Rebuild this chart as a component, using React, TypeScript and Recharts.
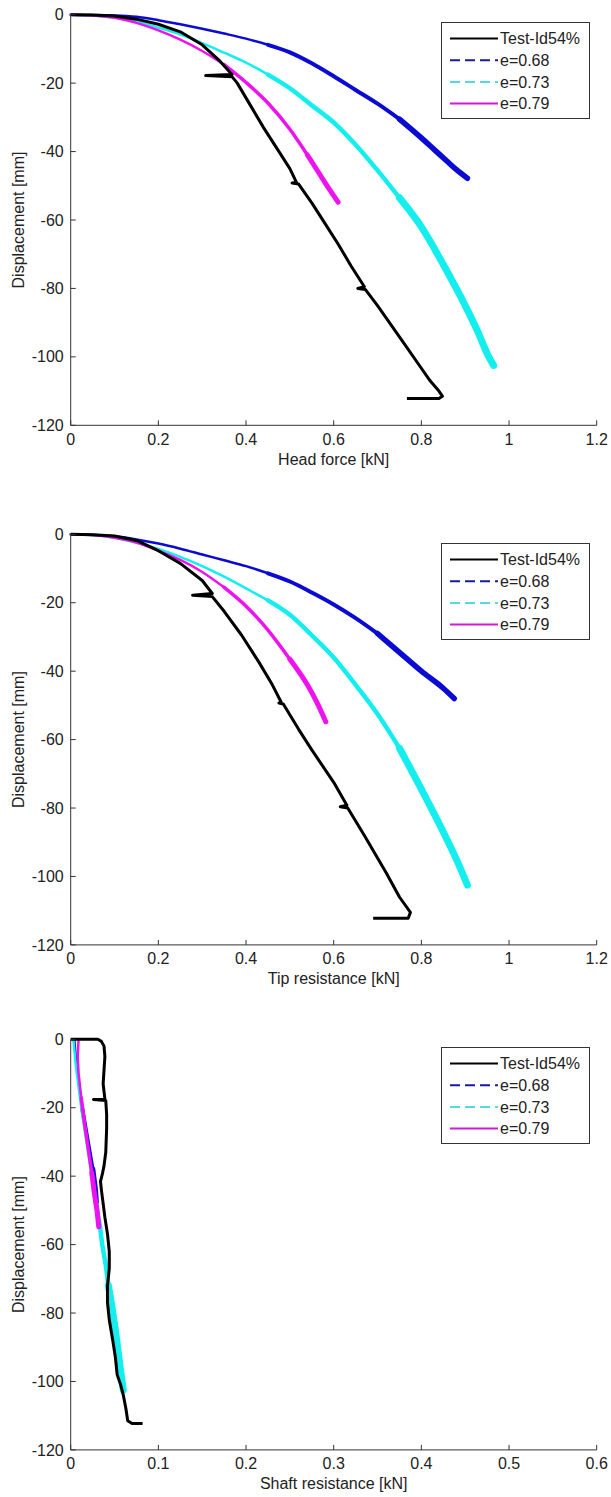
import { Legend, Line, LineChart, XAxis, YAxis } from "recharts";

type Pt = [number, number];

const SERIES_NAMES = ["Test-Id54%", "e=0.68", "e=0.73", "e=0.79"];
const SERIES_COLORS = ["#000000", "#0a0ad2", "#14eeee", "#ee12ee"];
const LEGEND_COLORS = ["#000000", "#1a1aa0", "#50dcdc", "#d418d4"];
const LEGEND_DASH = ["", "10 5", "10 5", ""];

const Y_TICKS = [-120, -100, -80, -60, -40, -20, 0];
const FORCE_TICKS = [0, 0.2, 0.4, 0.6, 0.8, 1, 1.2];
const SHAFT_TICKS = [0, 0.1, 0.2, 0.3, 0.4, 0.5, 0.6];

// Head force [kN] vs displacement [mm]
const headTest: Pt[] = [
  [0, 0], [0.05, -0.1], [0.1, -0.4], [0.15, -1.3], [0.2, -2.8], [0.25, -5], [0.3, -8.8],
  [0.34, -13.5], [0.368, -17.5], [0.308, -17.8], [0.368, -18.1], [0.38, -20], [0.41, -26.5],
  [0.44, -33], [0.47, -39], [0.5, -45], [0.515, -49], [0.505, -49.2], [0.52, -49.5],
  [0.55, -55], [0.58, -61], [0.61, -67], [0.64, -73.5], [0.67, -79.5], [0.655, -80],
  [0.672, -80.3], [0.7, -85], [0.73, -90.5], [0.76, -96], [0.79, -101.5], [0.82, -107],
  [0.84, -110], [0.848, -111.5], [0.84, -112.2], [0.767, -112.2],
];
const headE068: Pt[] = [
  [0, 0], [0.1, -0.2], [0.15, -0.6], [0.2, -1.6], [0.25, -2.8], [0.3, -4.1], [0.35, -5.5],
  [0.4, -7], [0.45, -8.8], [0.5, -11], [0.55, -14.2], [0.6, -18], [0.65, -22], [0.7, -26],
  [0.75, -30.5], [0.8, -36], [0.83, -39.5], [0.86, -43], [0.88, -45.3], [0.905, -47.8],
];
const headE073: Pt[] = [
  [0, 0], [0.05, -0.2], [0.1, -0.8], [0.15, -2], [0.2, -3.8], [0.25, -5.8], [0.3, -8.3],
  [0.35, -11.1], [0.4, -14], [0.45, -17.5], [0.5, -21.5], [0.55, -26.5], [0.6, -31.5],
  [0.65, -38], [0.7, -45.5], [0.75, -53.5], [0.8, -62], [0.85, -73], [0.9, -85],
  [0.93, -93], [0.95, -99], [0.965, -102.5],
];
const headE079: Pt[] = [
  [0, 0], [0.05, -0.2], [0.1, -0.9], [0.15, -2.4], [0.2, -4.6], [0.25, -7.3], [0.3, -10.6],
  [0.35, -14.6], [0.4, -19.8], [0.45, -25.8], [0.5, -33.5], [0.54, -41], [0.57, -47],
  [0.59, -51], [0.61, -54.8],
];

// Tip resistance [kN] vs displacement [mm]
const tipTest: Pt[] = [
  [0, 0], [0.05, -0.1], [0.1, -0.5], [0.15, -1.8], [0.2, -4.8], [0.25, -8.5], [0.3, -13.5],
  [0.323, -17.3], [0.278, -17.8], [0.323, -18.2], [0.35, -22.5], [0.39, -29.5], [0.43, -37.5],
  [0.46, -44], [0.48, -49], [0.475, -49.3], [0.485, -49.6], [0.52, -57], [0.55, -63],
  [0.6, -72.5], [0.63, -79.2], [0.615, -79.6], [0.632, -80], [0.67, -88], [0.72, -99],
  [0.75, -106], [0.775, -110.5], [0.77, -112.2], [0.69, -112.2],
];
const tipE068: Pt[] = [
  [0, 0], [0.1, -0.6], [0.15, -1.5], [0.2, -2.7], [0.25, -4.2], [0.3, -5.9], [0.35, -7.6],
  [0.4, -9.3], [0.45, -11.4], [0.5, -13.8], [0.55, -17], [0.6, -20.5], [0.65, -24.5],
  [0.7, -29], [0.75, -34.5], [0.8, -40], [0.85, -45], [0.875, -48],
];
const tipE073: Pt[] = [
  [0, 0], [0.05, -0.2], [0.1, -1], [0.15, -2.5], [0.2, -4.3], [0.25, -6.6], [0.3, -9.3],
  [0.35, -12.4], [0.4, -15.8], [0.45, -19.3], [0.5, -23.5], [0.55, -29.5], [0.6, -36],
  [0.65, -44], [0.7, -52.5], [0.75, -62.5], [0.8, -74.5], [0.85, -87], [0.88, -95],
  [0.905, -102.5],
];
const tipE079: Pt[] = [
  [0, 0], [0.05, -0.2], [0.1, -1], [0.15, -2.4], [0.2, -4.8], [0.25, -7.5], [0.3, -11],
  [0.35, -15.5], [0.4, -21], [0.45, -28], [0.5, -36.5], [0.54, -44], [0.565, -50],
  [0.582, -54.8],
];

// Shaft resistance [kN] vs displacement [mm]
const shaftTest: Pt[] = [
  [0, 0], [0.031, 0], [0.035, -0.6], [0.038, -2], [0.039, -5], [0.038, -9], [0.037, -13],
  [0.039, -17.5], [0.026, -17.6], [0.04, -17.9], [0.041, -22], [0.041, -26], [0.04, -33],
  [0.038, -37], [0.036, -39.5], [0.034, -41.5], [0.035, -44], [0.037, -48], [0.039, -52],
  [0.042, -57], [0.044, -62], [0.044, -67], [0.042, -72], [0.042, -77], [0.044, -82],
  [0.048, -88], [0.051, -93], [0.053, -98], [0.057, -101], [0.06, -104], [0.063, -108],
  [0.065, -111.5], [0.07, -112.3], [0.082, -112.3],
];
const shaftE068: Pt[] = [
  [0.004, 0], [0.006, -6], [0.009, -12], [0.013, -20], [0.017, -26], [0.021, -32],
  [0.025, -38], [0.028, -44], [0.029, -47.5],
];
const shaftE073: Pt[] = [
  [0.003, 0], [0.006, -8], [0.012, -20], [0.018, -30], [0.024, -40], [0.029, -48],
  [0.033, -54], [0.036, -60], [0.04, -66], [0.043, -72], [0.047, -78], [0.051, -85],
  [0.054, -91], [0.057, -97], [0.06, -102.5],
];
const shaftE079: Pt[] = [
  [0.009, 0], [0.008, -5], [0.009, -10], [0.012, -17], [0.016, -25], [0.02, -32],
  [0.024, -39], [0.027, -45], [0.03, -50], [0.032, -54.8],
];

const FONT = "'Liberation Sans', Arial, Helvetica, sans-serif";
const FS = 16;
const AXIS = "#333";
const TEXT = "#222";

const pts = (a: Pt[]) => a.map(([x, y]) => ({ x, y }));

const XTick = ({ x, y, payload }: any) => (
  <g>
    <line x1={x} x2={x} y1={y - 8} y2={y - 13} stroke={AXIS} />
    <text x={x} y={y} dy="0.71em" textAnchor="middle" fontSize={FS} fontFamily={FONT} fill={TEXT}>
      {String(payload.value)}
    </text>
  </g>
);

const YTick = ({ x, y, payload }: any) => (
  <g>
    <line x1={x + 7} x2={x + 12} y1={y} y2={y} stroke={AXIS} />
    <text x={x} y={y} dy="0.35em" textAnchor="end" fontSize={FS} fontFamily={FONT} fill={TEXT}>
      {String(payload.value)}
    </text>
  </g>
);

const LegendBox = () => (
  <svg width={149} height={97} style={{ display: "block" }}>
    <rect x={0.5} y={0.5} width={148} height={96} fill="#fff" stroke={AXIS} />
    {SERIES_NAMES.map((n, i) => {
      const cy = 16.5 + i * 21.7;
      return (
        <g key={n}>
          <line
            x1={9}
            x2={57}
            y1={cy}
            y2={cy}
            stroke={LEGEND_COLORS[i]}
            strokeWidth={2}
            strokeDasharray={LEGEND_DASH[i] || undefined}
          />
          <text x={59} y={cy} dy="0.35em" fontSize={FS} fontFamily={FONT} fill={TEXT}>
            {n}
          </text>
        </g>
      );
    })}
  </svg>
);

// model curves get noisier (thicker) further down, so they're drawn in pieces
function modelLines(
  key: string,
  a: Pt[],
  color: string,
  cuts: number[],
  widths: number[],
  smooth: boolean
) {
  const bounds = [0, ...cuts, a.length - 1];
  return widths.map((w, i) => (
    <Line
      key={key + i}
      type={smooth ? "monotone" : "linear"}
      data={pts(a.slice(bounds[i], bounds[i + 1] + 1))}
      dataKey="y"
      stroke={color}
      strokeWidth={w}
      strokeLinecap="round"
      strokeLinejoin="round"
      dot={false}
      legendType="none"
      isAnimationActive={false}
    />
  ));
}

interface PanelProps {
  top: number;
  height: number;
  marginTop: number;
  legendTop: number;
  xLabel: string;
  xTicks: number[];
  xMax: number;
  test: Pt[];
  e068: Pt[];
  e073: Pt[];
  e079: Pt[];
  cuts: number[][];
  smooth: boolean;
}

function Panel(p: PanelProps) {
  const xAxisHeight = p.height - p.marginTop - 410.6;
  return (
    <div style={{ position: "absolute", left: 0, top: p.top }}>
      <LineChart
        width={611}
        height={p.height}
        margin={{ top: p.marginTop, right: 14.3, bottom: 0, left: 0 }}
      >
        <XAxis
          dataKey="x"
          type="number"
          domain={[0, p.xMax]}
          ticks={p.xTicks}
          interval={0}
          tickSize={0}
          tickMargin={8}
          tickLine={false}
          tick={<XTick />}
          axisLine={{ stroke: AXIS }}
          height={xAxisHeight}
          label={{
            value: p.xLabel,
            position: "insideTop",
            offset: 28,
            fontSize: FS,
            fontFamily: FONT,
            fill: TEXT,
          }}
        />
        <YAxis
          type="number"
          domain={[-120, 0]}
          ticks={Y_TICKS}
          interval={0}
          width={70.7}
          tickSize={0}
          tickMargin={7}
          tickLine={false}
          tick={<YTick />}
          axisLine={{ stroke: AXIS }}
          label={{
            value: "Displacement [mm]",
            angle: -90,
            position: "insideLeft",
            offset: 18,
            fontSize: FS,
            fontFamily: FONT,
            fill: TEXT,
            style: { textAnchor: "middle" },
          }}
        />
        {modelLines("b", p.e068, SERIES_COLORS[1], p.cuts[0], [2.5, 4, 5.5], p.smooth)}
        {modelLines("c", p.e073, SERIES_COLORS[2], p.cuts[1], [2.5, 4.5, 7], p.smooth)}
        {modelLines("m", p.e079, SERIES_COLORS[3], p.cuts[2], [2.5, 3.5, 5], p.smooth)}
        <Line
          data={pts(p.test)}
          dataKey="y"
          stroke={SERIES_COLORS[0]}
          strokeWidth={3}
          strokeLinejoin="round"
          dot={false}
          legendType="none"
          isAnimationActive={false}
        />
        <Legend
          layout="vertical"
          align="center"
          verticalAlign="middle"
          wrapperStyle={{ position: "absolute", left: 441, top: p.legendTop, width: 149, height: 97 }}
          content={() => <LegendBox />}
        />
      </LineChart>
    </div>
  );
}

export default function App() {
  return (
    <div style={{ position: "absolute", left: 0, top: 0, width: 611, height: 1497, background: "#fff" }}>
      <Panel
        top={0}
        height={480}
        marginTop={14.7}
        legendTop={22}
        xLabel="Head force [kN]"
        xTicks={FORCE_TICKS}
        xMax={1.2}
        test={headTest}
        e068={headE068}
        e073={headE073}
        e079={headE079}
        cuts={[[8, 14], [9, 15], [7, 11]]}
        smooth
      />
      <Panel
        top={520}
        height={480}
        marginTop={14.3}
        legendTop={23.3}
        xLabel="Tip resistance [kN]"
        xTicks={FORCE_TICKS}
        xMax={1.2}
        test={tipTest}
        e068={tipE068}
        e073={tipE073}
        e079={tipE079}
        cuts={[[8, 13], [9, 15], [7, 10]]}
        smooth
      />
      <Panel
        top={1025}
        height={472}
        marginTop={14.3}
        legendTop={21.7}
        xLabel="Shaft resistance [kN]"
        xTicks={SHAFT_TICKS}
        xMax={0.6}
        test={shaftTest}
        e068={shaftE068}
        e073={shaftE073}
        e079={shaftE079}
        cuts={[[3, 6], [5, 9], [3, 6]]}
        smooth={false}
      />
    </div>
  );
}
